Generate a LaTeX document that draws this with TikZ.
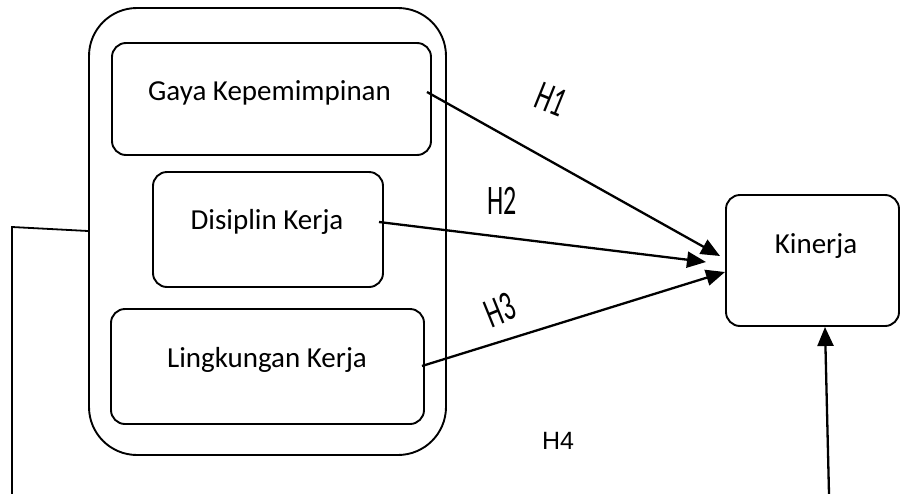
\documentclass[tikz,border=0pt]{standalone}
\usepackage{fontspec}
\setmainfont{Carlito}
\newfontfamily\arialf{Liberation Sans}
\newfontfamily\narrowf[FakeStretch=0.62]{Carlito}
\usetikzlibrary{arrows.meta,calc}
\tikzset{
  box/.style={draw, line width=1.9pt, rounded corners=14pt, inner sep=0pt},
  conn/.style={line width=2.3pt, -{Triangle[length=19pt,width=16pt]}},
  plain/.style={line width=1.8pt},
  txt/.style={font=\fontsize{29}{32}\selectfont, inner sep=0pt, anchor=base},
  hlab/.style={font=\narrowf\fontsize{42}{46}\selectfont, inner sep=0pt},
}
\begin{document}
\begin{tikzpicture}[x=1pt,y=-1pt]
\useasboundingbox (0,0) rectangle (900,493);
\node[box, rounded corners=48pt, minimum width=357pt, minimum height=447pt] (outer) at (267.5,231.5) {};
\node[box, minimum width=319pt, minimum height=112pt] (g) at (271.5,99) {};
\node[txt] (gt) at (269.5,100) {Gaya Kepemimpinan};
\node[box, minimum width=230pt, minimum height=115pt] (d) at (268,229.5) {};
\node[txt] (dt) at (267,229) {Disiplin Kerja};
\node[box, minimum width=313pt, minimum height=115pt] (l) at (267.5,366.5) {};
\node[txt] (lt) at (267,367) {Lingkungan Kerja};
\node[box, minimum width=173pt, minimum height=131pt] (k) at (812.5,260.5) {};
\node[txt] (kt) at (816,253) {Kinerja};
\coordinate (s1) at (427,92);
\coordinate (s2) at (379,222);
\coordinate (s3) at (422,366);
\coordinate (t1) at (720,256);
\coordinate (t2) at (706,262);
\coordinate (t3) at (725,272);
\draw[conn] (s1) -- (t1);
\draw[conn] (s2) -- (t2);
\draw[conn] (s3) -- (t3);
\coordinate (lb) at (12,494);
\coordinate (lc) at (12,227);
\draw[plain] (outer.west |- 0,231) -- (lc) -- (lb);
\coordinate (rb) at (829,494);
\coordinate (rt) at (825,327);
\draw[conn] (rb) -- (rt);
\node[hlab, rotate=-22] (h1) at (551,99) {H1};
\node[hlab] (h2) at (502,201) {H2};
\node[hlab, rotate=22] (h3) at (500,310) {H3};
\node[inner sep=0pt, font=\arialf\fontsize{25}{28}\selectfont] (h4) at (558,441) {H4};
\end{tikzpicture}
\end{document}
